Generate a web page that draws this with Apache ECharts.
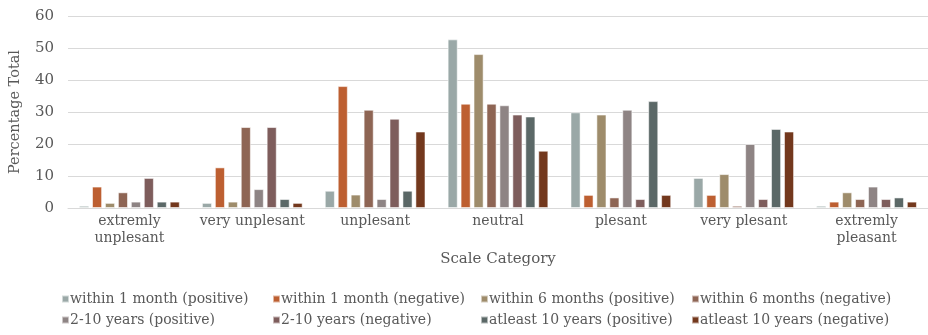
<!DOCTYPE html>
<html>
<head>
<meta charset="utf-8">
<script src="https://cdn.jsdelivr.net/npm/echarts@6/dist/echarts.min.js"></script>
<style>
  html, body { margin: 0; padding: 0; background: #fff; }
  #chart { width: 928px; height: 335px; }
</style>
</head>
<body>
<div id="chart"></div>
<script>
// Scale categories along the x axis
const categories = ['extremly\nunplesant', 'very unplesant', 'unplesant', 'neutral', 'plesant', 'very plesant', 'extremly\npleasant'];

// Percentage of responses per time frame and valence
const within1MonthPos  = [0.7, 1.6, 5.4, 52.7, 29.9, 9.4, 0.7];
const within1MonthNeg  = [6.7, 12.7, 38.1, 32.6, 4.1, 4.1, 2.0];
const within6MonthsPos = [1.6, 2.0, 4.2, 48.1, 29.2, 10.6, 4.9];
const within6MonthsNeg = [4.9, 25.3, 30.7, 32.6, 3.3, 0.7, 2.8];
const years2to10Pos    = [2.0, 5.9, 2.8, 32.1, 30.7, 20.0, 6.7];
const years2to10Neg    = [9.4, 25.3, 27.9, 29.2, 2.8, 2.8, 2.8];
const atleast10Pos     = [2.0, 2.8, 5.4, 28.6, 33.4, 24.7, 3.3];
const atleast10Neg     = [2.0, 1.6, 23.9, 17.9, 4.1, 23.9, 2.0];

const seriesNames = [
  'within 1 month (positive)', 'within 1 month (negative)',
  'within 6 months (positive)', 'within 6 months (negative)',
  '2-10 years (positive)', '2-10 years (negative)',
  'atleast 10 years (positive)', 'atleast 10 years (negative)'
];
const seriesData = [
  within1MonthPos, within1MonthNeg, within6MonthsPos, within6MonthsNeg,
  years2to10Pos, years2to10Neg, atleast10Pos, atleast10Neg
];
const colors = ['#9AA8A7', '#BD5F31', '#9E8C6B', '#8E6554', '#8E8484', '#7E5D5C', '#5B6867', '#73381D'];

const FONT = 'DejaVu Serif';
const TEXT = '#595959';

const chart = echarts.init(document.getElementById('chart'), null, { renderer: 'canvas' });

// Legend laid out as four columns of two entries each
const legendCols = [56, 267, 475, 686];
const legends = legendCols.map((x, i) => ({
  orient: 'vertical',
  left: x,
  top: 287,
  itemWidth: 7,
  itemHeight: 7,
  itemGap: 7,
  icon: 'rect',
  data: [seriesNames[i], seriesNames[i + 4]],
  textStyle: { fontFamily: FONT, fontSize: 14, color: TEXT, padding: [0, 0, 0, -4] }
}));

chart.setOption({
  animation: false,
  color: colors,
  grid: { left: 65, right: -8, top: 16, bottom: 127, containLabel: false },
  legend: legends,
  xAxis: {
    type: 'category',
    data: categories,
    axisTick: { show: false },
    axisLine: { lineStyle: { color: '#d9d9d9', width: 1 } },
    axisLabel: { fontFamily: FONT, fontSize: 14, color: TEXT, margin: 5, lineHeight: 17, interval: 0 },
    name: 'Scale Category',
    nameLocation: 'middle',
    nameGap: 44,
    nameTextStyle: { fontFamily: FONT, fontSize: 15, color: TEXT }
  },
  yAxis: {
    type: 'value',
    min: 0,
    max: 60,
    interval: 10,
    axisLine: { show: false },
    axisTick: { show: false },
    splitLine: { lineStyle: { color: '#d9d9d9', width: 1 } },
    axisLabel: { fontFamily: FONT, fontSize: 15, color: TEXT, margin: 14 },
    name: 'Percentage Total',
    nameLocation: 'middle',
    nameGap: 45,
    nameTextStyle: { fontFamily: FONT, fontSize: 14.5, color: TEXT }
  },
  series: seriesNames.map((name, i) => ({
    name,
    type: 'bar',
    data: seriesData[i],
    barGap: '28%',
    barCategoryGap: '18%',
    itemStyle: { borderColor: 'rgba(255,255,255,0.55)', borderWidth: 1 }
  }))
});
</script>
</body>
</html>
